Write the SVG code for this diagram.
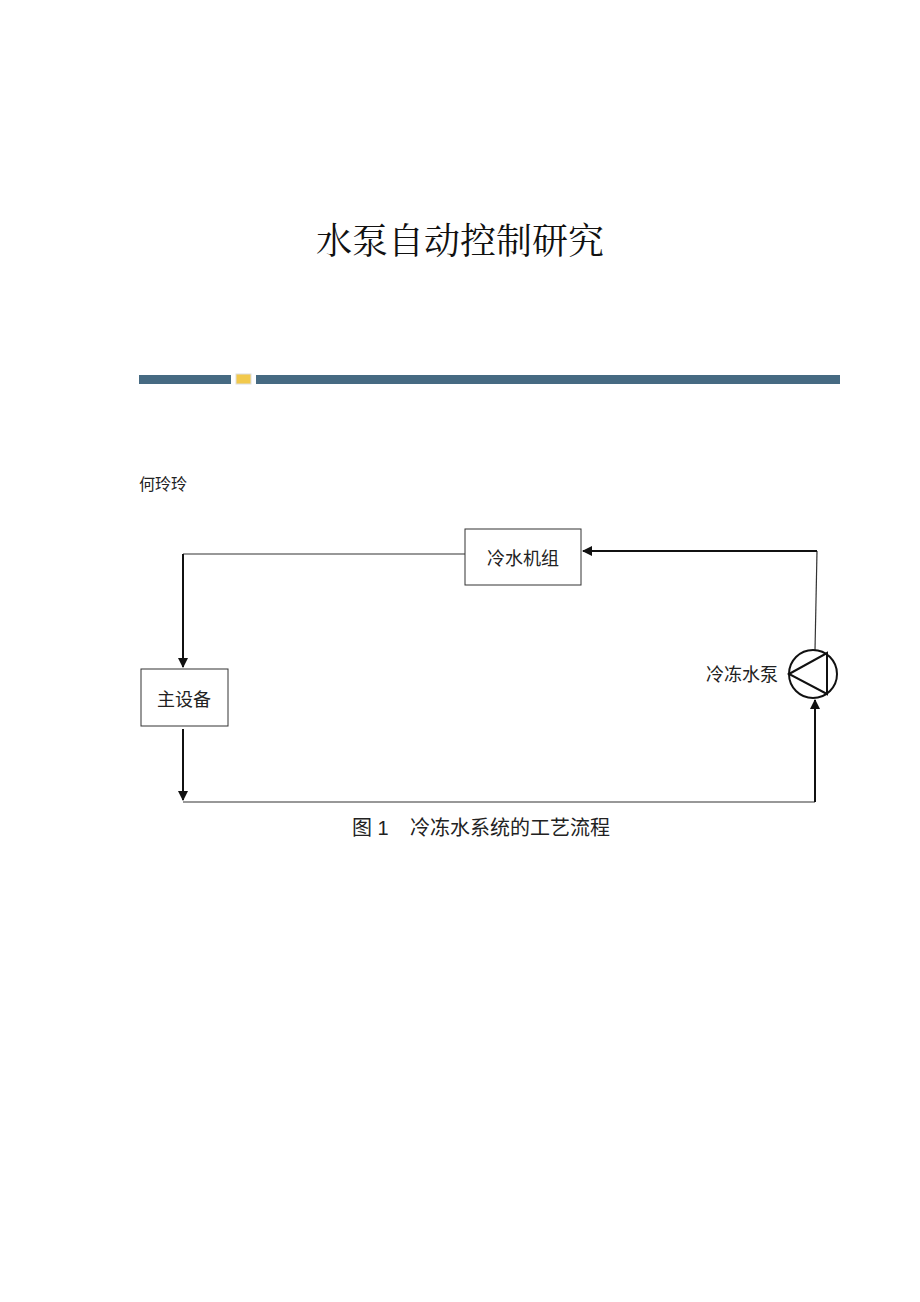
<svg xmlns="http://www.w3.org/2000/svg" width="920" height="1302" viewBox="0 0 920 1302">
<style>
.t{font-family:"Liberation Sans","Noto Sans CJK SC",sans-serif;fill:#222}
.box{fill:#fff;stroke:#333;stroke-width:1}
.ln{fill:none;stroke:#333;stroke-width:1.2}
.ar{fill:none;stroke:#111;stroke-width:2}
</style>
<defs><marker id="a" viewBox="0 0 10 10" refX="9" refY="5" markerWidth="5" markerHeight="5" orient="auto"><path d="M0,0L10,5L0,10z" fill="#111"/></marker></defs>
<rect width="920" height="1302" fill="#fff"/>
<text x="460" y="254" font-size="36" text-anchor="middle" font-family="'Noto Serif CJK SC','Noto Sans CJK SC',serif" fill="#111">水泵自动控制研究</text>
<rect x="139" y="375" width="92" height="9" fill="#466a82"/>
<rect x="256" y="375" width="584" height="9" fill="#466a82"/>
<rect x="236" y="374" width="15" height="10" fill="#f2c94c" stroke="#ddd"/>
<text class="t" x="139" y="490" font-size="16" font-family="'Noto Serif CJK SC','Noto Sans CJK SC',serif">何玲玲</text>
<g id="connectors">
<polyline class="ln" points="465,554 183,554"/>
<line class="ar" x1="183" y1="554" x2="183" y2="667" marker-end="url(#a)"/>
<line class="ar" x1="183" y1="729" x2="183" y2="800" marker-end="url(#a)"/>
<line class="ln" x1="183" y1="802" x2="815" y2="802"/>
<line class="ar" x1="815" y1="802" x2="815" y2="700" marker-end="url(#a)"/>
<line class="ln" x1="815" y1="650" x2="817" y2="551"/>
<line class="ar" x1="817" y1="551" x2="583" y2="551" marker-end="url(#a)"/>
</g>
<g id="chiller"><rect class="box" x="465" y="529" width="116" height="56"/><text class="t" x="523" y="565" font-size="18" text-anchor="middle">冷水机组</text></g>
<g id="main"><rect class="box" x="141" y="669" width="87" height="57"/><text class="t" x="184" y="706" font-size="18" text-anchor="middle">主设备</text></g>
<g id="pump"><circle cx="813" cy="674" r="24" fill="#fff" stroke="#111" stroke-width="2"/><polygon points="789,674 827,653 827,694" fill="none" stroke="#111" stroke-width="2"/><text class="t" x="742" y="681" font-size="18" text-anchor="middle">冷冻水泵</text></g>
<text class="t" x="352" y="835" font-size="20">图 1</text>
<text class="t" x="410" y="835" font-size="20">冷冻水系统的工艺流程</text>
</svg>
